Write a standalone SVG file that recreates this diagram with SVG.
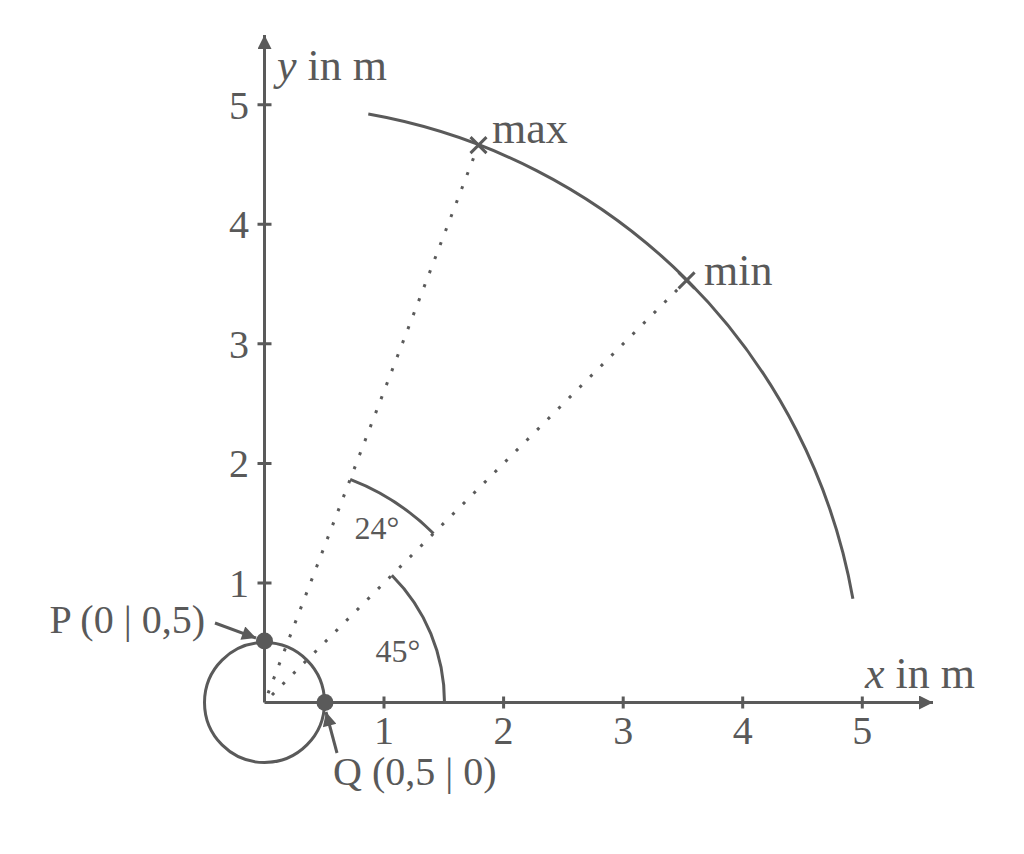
<svg xmlns="http://www.w3.org/2000/svg" width="1024" height="854" viewBox="0 0 1024 854">
<defs>
<style>
.ln{stroke:#5a5a5a;stroke-width:3;fill:none}
.dot{stroke:#5a5a5a;stroke-width:3;fill:none;stroke-dasharray:3 12}
.t{font-family:"Liberation Serif","Times New Roman",serif;fill:#595959;font-size:40px}
.s{font-size:32px}
.b{font-size:44px}
.i{font-style:italic}
</style>
<marker id="ah" viewBox="0 0 10 10" refX="10" refY="5" markerWidth="20" markerHeight="14" markerUnits="userSpaceOnUse" orient="auto">
<path d="M0,0 L10,5 L0,10 z" fill="#5a5a5a"/>
</marker>
</defs>
<rect width="1024" height="854" fill="#fff"/>
<g id="connectors">
<line class="ln" x1="264.5" y1="702.5" x2="933" y2="702.5" marker-end="url(#ah)"/>
<line class="ln" x1="264.5" y1="702.5" x2="264.5" y2="35" marker-end="url(#ah)"/>
<line class="dot" x1="272" y1="695" x2="686.6" y2="280.4"/>
<line class="dot" x1="268.1" y1="693.2" x2="478.5" y2="145.1"/>
<line class="ln" x1="215" y1="623" x2="256" y2="638" marker-end="url(#ah)"/>
<line class="ln" x1="337" y1="753" x2="326" y2="712" marker-end="url(#ah)"/>
</g>
<g id="ticks">
<path class="ln" d="M384,696.5v12M503.6,696.5v12M623.2,696.5v12M742.7,696.5v12M862.3,696.5v12"/>
<path class="ln" d="M257.5,583h14M257.5,463.4h14M257.5,343.8h14M257.5,224.3h14M257.5,104.7h14"/>
</g>
<g id="axis-labels">
<text class="t" x="249" y="597" text-anchor="end">1</text>
<text class="t" x="249" y="477.4" text-anchor="end">2</text>
<text class="t" x="249" y="357.8" text-anchor="end">3</text>
<text class="t" x="249" y="238.3" text-anchor="end">4</text>
<text class="t" x="249" y="118.7" text-anchor="end">5</text>
<text class="t" x="384" y="744" text-anchor="middle">1</text>
<text class="t" x="503.6" y="744" text-anchor="middle">2</text>
<text class="t" x="623.2" y="744" text-anchor="middle">3</text>
<text class="t" x="742.7" y="744" text-anchor="middle">4</text>
<text class="t" x="862.3" y="744" text-anchor="middle">5</text>
<text class="t b" x="277" y="80"><tspan class="i">y</tspan> in m</text>
<text class="t b" x="865" y="688"><tspan class="i">x</tspan> in m</text>
</g>
<g id="small-circle">
<circle class="ln" cx="264.5" cy="702.5" r="60"/>
</g>
<g id="big-arc">
<path class="ln" d="M368.3,114.1 A597.5,597.5 0 0 1 852.9,598.8"/>
</g>
<g id="angle-45">
<path class="ln" d="M444.5,702.5 A180,180 0 0 0 391.8,575.2"/>
<text class="t s" x="398" y="662" text-anchor="middle">45°</text>
</g>
<g id="angle-24">
<path class="ln" d="M433.5,533.5 A239,239 0 0 0 350.2,479.4"/>
<text class="t s" x="377" y="539" text-anchor="middle">24°</text>
</g>
<g id="max">
<path class="ln" d="M470.5,137.1l16,16M470.5,153.1l16,-16"/>
<text class="t b" x="492" y="143">max</text>
</g>
<g id="min">
<path class="ln" d="M678.6,272.4l16,16M678.6,288.4l16,-16"/>
<text class="t b" x="704" y="285">min</text>
</g>
<g id="P">
<circle cx="264.5" cy="641" r="8.5" fill="#5a5a5a"/>
<text class="t" x="205" y="633" text-anchor="end">P (0 | 0,5)</text>
</g>
<g id="Q">
<circle cx="325" cy="702.5" r="8.5" fill="#5a5a5a"/>
<text class="t" x="333" y="785">Q (0,5 | 0)</text>
</g>
</svg>
